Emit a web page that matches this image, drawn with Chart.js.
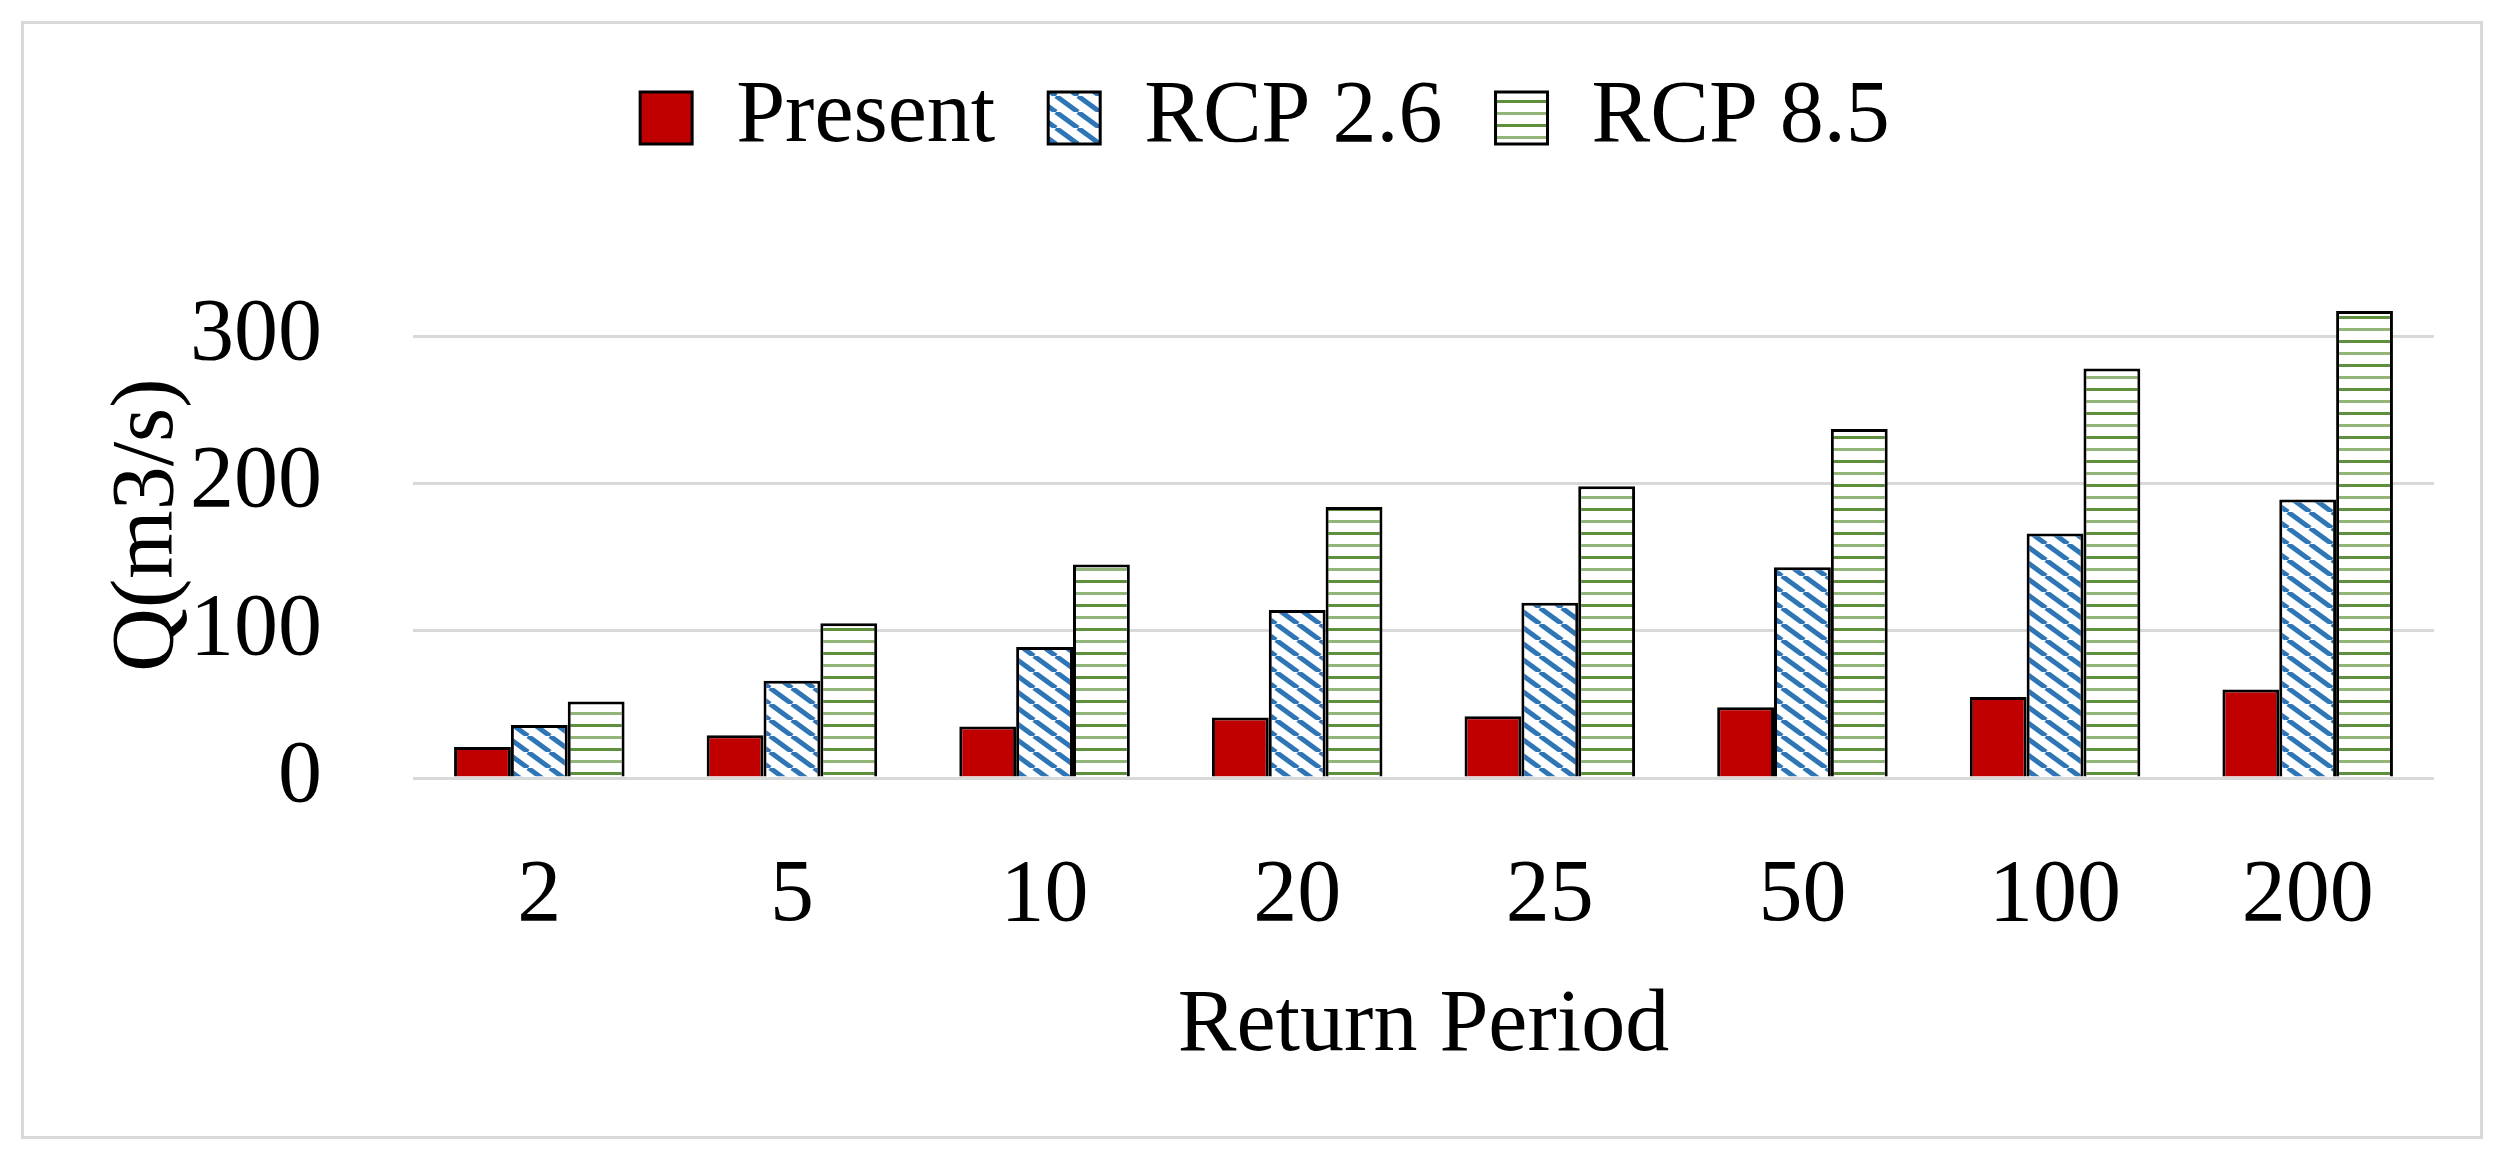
<!DOCTYPE html>
<html><head><meta charset="utf-8">
<script src="https://cdn.jsdelivr.net/npm/chart.js@4.4.1/dist/chart.umd.min.js"></script>
<style>
html,body{margin:0;padding:0;background:#fff;}
#wrap{position:relative;width:2503px;height:1152px;}
#frame{position:absolute;left:21px;top:21px;width:2462px;height:1118px;border:3px solid #d9d9d9;box-sizing:border-box;pointer-events:none;}
</style></head><body>
<div id="wrap"><canvas id="c"></canvas><div id="frame"></div></div>
<script>
const categories = ['2', '5', '10', '20', '25', '50', '100', '200'];
const presentValues = [21, 29, 35, 41, 42, 48, 55, 60];
const rcp26Values = [36, 66, 89, 114, 119, 143, 166, 189];
const rcp85Values = [52, 105, 145, 184, 198, 237, 278, 317];
const seriesNames = ['Present', 'RCP 2.6', 'RCP 8.5'];
const yTickValues = [0, 100, 200, 300];
const xTitle = 'Return Period';
const yTitle = 'Q(m3/s)';

function diagPattern() {
  const w = 22, h = 16;
  const c = document.createElement('canvas'); c.width = w; c.height = h;
  const g = c.getContext('2d');
  g.fillStyle = '#ffffff'; g.fillRect(0, 0, w, h);
  g.strokeStyle = '#2E75B6'; g.lineWidth = 5;
  for (let k = -2; k <= 2; k++) {
    g.beginPath(); g.moveTo(k * w, 0); g.lineTo(k * w + w, h); g.stroke();
  }
  return g.createPattern(c, 'repeat');
}
function hPattern() {
  const c = document.createElement('canvas'); c.width = 8; c.height = 24;
  const g = c.getContext('2d');
  g.fillStyle = '#ffffff'; g.fillRect(0, 0, 8, 24);
  g.fillStyle = '#5E8F3E'; g.fillRect(0, 4, 8, 3);
  g.fillStyle = '#92B67A'; g.fillRect(0, 16, 8, 3);
  return g.createPattern(c, 'repeat');
}

Chart.defaults.font.family = "'Liberation Serif', 'Times New Roman', serif";
Chart.defaults.color = '#000';

const legendGap = {
  id: 'legendGap',
  beforeLayout(chart) {
    const lg = chart.legend;
    if (lg && !lg._gapWrapped) {
      const f = lg.fit;
      lg.fit = function () { f.call(this); this.height += 100; };
      lg._gapWrapped = true;
    }
  }
};

new Chart(document.getElementById('c'), {
  type: 'bar',
  data: {
    labels: categories,
    datasets: [
      { label: seriesNames[0], data: presentValues, backgroundColor: '#C00000', borderColor: '#000', borderWidth: 3 },
      { label: seriesNames[1], data: rcp26Values, backgroundColor: diagPattern(), borderColor: '#000', borderWidth: 3 },
      { label: seriesNames[2], data: rcp85Values, backgroundColor: hPattern(), borderColor: '#000', borderWidth: 3 }
    ]
  },
  plugins: [legendGap],
  options: {
    responsive: true,
    maintainAspectRatio: false,
    devicePixelRatio: 1,
    animation: false,
    layout: { padding: { left: 96, right: 69, top: 21, bottom: 0 } },
    datasets: { bar: { categoryPercentage: 0.675, barPercentage: 1.0 } },
    plugins: {
      legend: {
        position: 'top',
        labels: { boxWidth: 52, boxHeight: 52, padding: 53, font: { size: 88 }, color: '#000' }
      },
      tooltip: { enabled: false }
    },
    scales: {
      x: {
        grid: { display: false, drawTicks: false },
        border: { display: false },
        ticks: { font: { size: 88 }, padding: 66, maxRotation: 0, color: '#000' },
        title: { display: true, text: xTitle, font: { size: 88 }, padding: { top: 0, bottom: 72 }, color: '#000' },
        afterFit(scale) { scale.height = 374; }
      },
      y: {
        min: 0,
        max: 343.5,
        grid: { color: '#D9D9D9', lineWidth: 3, drawTicks: false },
        border: { display: false },
        ticks: { stepSize: 100, font: { size: 88 }, padding: 91, color: '#000' },
        afterBuildTicks(scale) { scale.ticks = yTickValues.map(v => ({ value: v })); },
        title: { display: true, text: yTitle, font: { size: 88 }, padding: { top: 0, bottom: 0 }, color: '#000' },
        afterFit(scale) { scale.width = 317; }
      }
    }
  }
});
</script>
</body></html>
